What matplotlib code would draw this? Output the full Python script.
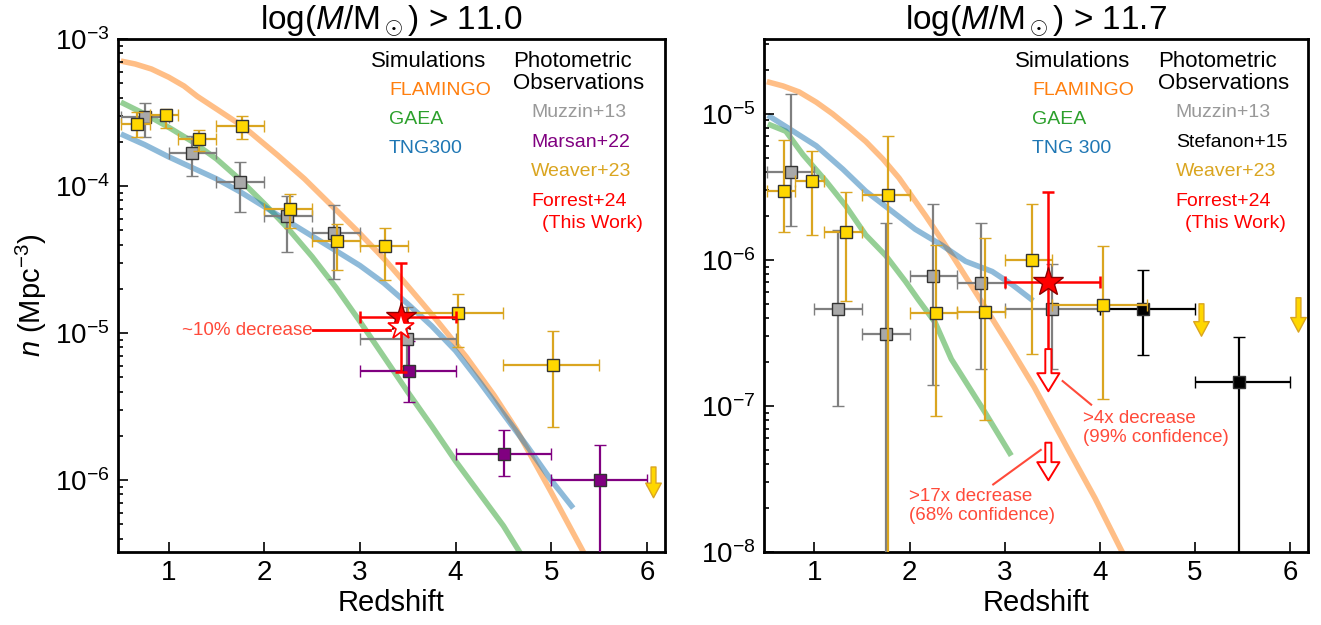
import matplotlib
matplotlib.use('Agg')
import matplotlib.pyplot as plt
import numpy as np
from matplotlib.patches import FancyArrowPatch
from matplotlib.ticker import LogLocator, NullFormatter, FixedLocator

plt.rcParams['font.family'] = ['Liberation Sans', 'DejaVu Sans']
plt.rcParams['mathtext.fontset'] = 'custom'
plt.rcParams['mathtext.rm'] = 'Liberation Sans'
plt.rcParams['mathtext.it'] = 'Liberation Sans:italic'
plt.rcParams['mathtext.bf'] = 'Liberation Sans:bold'
plt.rcParams['mathtext.sf'] = 'Liberation Sans'

# ---------------- Left panel: log(M/Msun) > 11.0 ----------------
flam_L_z = [0.50, 0.65, 0.82, 1.00, 1.16, 1.30, 1.51, 1.79, 2.14, 2.42, 2.70, 2.98, 3.26, 3.50, 3.80,
            4.11, 4.40, 4.64, 4.99, 5.33, 5.40]
flam_L_n = [7.08e-4, 6.76e-4, 6.25e-4, 5.50e-4, 4.79e-4, 4.07e-4, 3.31e-4, 2.51e-4, 1.62e-4, 1.12e-4,
            7.41e-5, 4.90e-5, 3.16e-5, 2.09e-5, 1.23e-5, 6.92e-6, 3.80e-6, 2.19e-6, 8.51e-7, 3.31e-7,
            2.70e-7]
gaea_L_z = [0.50, 0.75, 1.00, 1.25, 1.50, 1.75, 2.00, 2.25, 2.50, 2.75, 3.00, 3.25, 3.50, 3.75, 4.00,
            4.50, 4.70]
gaea_L_n = [3.72e-4, 3.09e-4, 2.51e-4, 2.00e-4, 1.53e-4, 1.10e-4, 7.59e-5, 5.13e-5, 3.31e-5, 2.04e-5,
            1.20e-5, 6.92e-6, 3.98e-6, 2.34e-6, 1.35e-6, 4.90e-7, 3.02e-7]
tng_L_z = [0.50, 0.75, 1.00, 1.25, 1.50, 1.75, 2.00, 2.25, 2.50, 2.75, 3.00, 3.25, 3.50, 3.75, 4.00,
           4.25, 4.50, 4.75, 5.00, 5.23]
tng_L_n = [2.26e-4, 1.91e-4, 1.58e-4, 1.33e-4, 1.12e-4, 9.12e-5, 7.24e-5, 5.75e-5, 4.57e-5, 3.63e-5,
           2.88e-5, 2.19e-5, 1.58e-5, 1.12e-5, 7.59e-6, 4.68e-6, 2.82e-6, 1.70e-6, 1.00e-6, 6.46e-7]

muz_L_z = [0.75, 1.24, 1.745, 2.24, 2.73, 3.49]
muz_L_n = [2.93e-4, 1.67e-4, 1.07e-4, 6.3e-5, 4.8e-5, 9.1e-6]
muz_L_up = [3.7e-4, 2.2e-4, 1.46e-4, 8.6e-5, 7.4e-5, 1.5e-5]
muz_L_lo = [2.15e-4, 1.17e-4, 6.7e-5, 3.55e-5, 2.35e-5, 6.0e-6]
muz_L_zlo = [0.5, 1.0, 1.5, 2.0, 2.5, 3.0]
muz_L_zhi = [1.0, 1.5, 2.0, 2.5, 3.0, 4.0]

mar_L_z = [3.51, 4.51, 5.51]
mar_L_n = [5.5e-6, 1.5e-6, 1.0e-6]
mar_L_up = [8.9e-6, 2.2e-6, 1.73e-6]
mar_L_lo = [3.4e-6, 1.07e-6, 1e-9]
mar_L_zlo = [3.0, 4.0, 5.0]
mar_L_zhi = [4.0, 5.0, 6.0]

wea_L_z = [0.67, 0.97, 1.32, 1.77, 2.27, 2.76, 3.26, 4.03, 5.02]
wea_L_n = [2.63e-4, 3.04e-4, 2.09e-4, 2.57e-4, 7.0e-5, 4.2e-5, 3.9e-5, 1.38e-5, 6.1e-6]
wea_L_up = [3.2e-4, 3.35e-4, 2.42e-4, 2.98e-4, 8.9e-5, 5.5e-5, 5.2e-5, 1.85e-5, 1.03e-5]
wea_L_lo = [2.15e-4, 2.5e-4, 1.74e-4, 2.1e-4, 5.2e-5, 2.7e-5, 2.3e-5, 8.1e-6, 2.3e-6]
wea_L_zlo = [0.5, 0.8, 1.1, 1.5, 2.0, 2.5, 3.0, 3.5, 4.5]
wea_L_zhi = [0.8, 1.1, 1.5, 2.0, 2.5, 3.0, 3.5, 4.5, 5.5]
wea_L_lim_z = [6.07]
wea_L_lim_top = [1.23e-6]
wea_L_lim_tip = [7.6e-7]

for_L_z, for_L_n, for_L_up, for_L_lo, for_L_zlo, for_L_zhi = 3.43, 1.29e-5, 3.0e-5, 5.4e-6, 3.0, 4.0
for_L_dec_n = 1.1e-5          # ~10% decrease (open star)

# ---------------- Right panel: log(M/Msun) > 11.7 ----------------
flam_R_z = [0.50, 0.67, 0.84, 1.02, 1.19, 1.36, 1.54, 1.72, 1.89, 2.17, 2.45, 2.79, 3.05, 3.31, 3.67,
            3.95, 4.22, 4.30]
flam_R_n = [1.66e-5, 1.55e-5, 1.41e-5, 1.20e-5, 1.0e-5, 8.13e-6, 6.46e-6, 4.90e-6, 3.63e-6, 2.0e-6,
            1.07e-6, 4.79e-7, 2.57e-7, 1.35e-7, 5.01e-8, 2.34e-8, 1.05e-8, 8.3e-9]
gaea_R_z = [0.51, 0.70, 0.88, 1.12, 1.33, 1.54, 1.75, 1.96, 2.09, 2.27, 2.44, 2.79, 3.07]
gaea_R_n = [8.51e-6, 7.59e-6, 5.25e-6, 3.47e-6, 2.34e-6, 1.48e-6, 1.07e-6, 7.08e-7, 5.37e-7, 3.72e-7,
            2.09e-7, 9.12e-8, 4.57e-8]
tng_R_z = [0.51, 0.73, 1.02, 1.30, 1.54, 1.82, 2.06, 2.34, 2.59, 2.87, 3.08, 3.30]
tng_R_n = [9.77e-6, 7.94e-6, 6.03e-6, 4.17e-6, 2.95e-6, 2.14e-6, 1.62e-6, 1.26e-6, 9.77e-7, 8.32e-7,
           6.76e-7, 5.25e-7]

muz_R_z = [0.75, 1.25, 1.75, 2.25, 2.75, 3.5]
muz_R_n = [4.0e-6, 4.6e-7, 3.1e-7, 7.7e-7, 6.9e-7, 4.6e-7]
muz_R_up = [1.37e-5, 1.6e-6, 1.8e-6, 2.4e-6, 1.8e-6, 9.3e-7]
muz_R_lo = [1.7e-6, 1.0e-7, 1e-10, 1.38e-7, 1.78e-7, 1.8e-7]
muz_R_zlo = [0.5, 1.0, 1.5, 2.0, 2.5, 3.0]
muz_R_zhi = [1.0, 1.5, 2.0, 2.5, 3.0, 4.0]

ste_R_z = [4.46, 5.46]
ste_R_n = [4.6e-7, 1.45e-7]
ste_R_up = [8.5e-7, 2.95e-7]
ste_R_lo = [2.24e-7, 1e-10]
ste_R_zlo = [4.0, 5.0]
ste_R_zhi = [5.0, 6.0]

wea_R_z = [0.68, 0.97, 1.33, 1.77, 2.28, 2.79, 3.29, 4.03]
wea_R_n = [2.96e-6, 3.46e-6, 1.55e-6, 2.8e-6, 4.3e-7, 4.4e-7, 1.0e-6, 4.9e-7]
wea_R_up = [6.6e-6, 5.6e-6, 2.9e-6, 7.1e-6, 1.26e-6, 1.42e-6, 2.4e-6, 1.24e-6]
wea_R_lo = [1.54e-6, 1.49e-6, 5.2e-7, 1e-10, 8.5e-8, 8.0e-8, 2.25e-7, 1.12e-7]
wea_R_zlo = [0.5, 0.8, 1.1, 1.5, 2.0, 2.5, 3.0, 3.5]
wea_R_zhi = [0.8, 1.1, 1.5, 2.0, 2.5, 3.0, 3.5, 4.5]
wea_R_lim_z = [5.07, 6.09]
wea_R_lim_top = [5.0e-7, 5.5e-7]
wea_R_lim_tip = [3.0e-7, 3.2e-7]

for_R_z, for_R_n, for_R_up, for_R_zlo, for_R_zhi = 3.46, 7.1e-7, 2.9e-6, 3.0, 4.0
for_R_lim_top = [2.45e-7, 5.6e-8]
for_R_lim_tip = [1.26e-7, 3.1e-8]

# ---------------- colours ----------------
C_FLAM, C_GAEA, C_TNG = '#ff7f0e', '#2ca02c', '#1f77b4'
C_MUZ_E, C_MUZ_F, C_MUZ_T = '#7f7f7f', '#a9a9a9', '#999999'
C_WEA_E, C_WEA_F = '#daa520', '#ffd700'
C_MAR = '#800080'
C_ANN = '#ff4a3a'

W, H = 1321, 625
fig = plt.figure(figsize=(W / 100, H / 100), dpi=100)
ax1 = fig.add_axes([118 / W, 1 - 552 / H, 547 / W, 513 / H])
ax2 = fig.add_axes([764 / W, 1 - 552 / H, 544 / W, 513 / H])


def points(ax, z, n, up, lo, zlo, zhi, ecol, face, mec='#333333', zorder=4):
    z = np.asarray(z); n = np.asarray(n)
    yerr = [n - np.asarray(lo), np.asarray(up) - n]
    xerr = [z - np.asarray(zlo), np.asarray(zhi) - z]
    ax.errorbar(z, n, yerr=yerr, xerr=xerr, fmt='s', color=ecol, mfc=face, mec=mec, mew=1.0,
                ms=8, elinewidth=1.6, capsize=4, capthick=1.6, zorder=zorder)


def down_arrow(ax, x, top, tip, fc, ec, scale, hw, hl, tw, lw=1.0, zorder=6):
    style = 'simple,head_length=%g,head_width=%g,tail_width=%g' % (hl, hw, tw)
    ax.add_patch(FancyArrowPatch((x, top), (x, tip), arrowstyle=style, mutation_scale=scale,
                                 fc=fc, ec=ec, lw=lw, zorder=zorder, shrinkA=0, shrinkB=0))


def style_axes(ax, ylim):
    ax.set_yscale('log')
    ax.set_xlim(0.47, 6.19)
    ax.set_ylim(*ylim)
    ax.xaxis.set_major_locator(FixedLocator([1, 2, 3, 4, 5, 6]))
    ax.yaxis.set_major_locator(LogLocator(base=10, numticks=20))
    ax.yaxis.set_minor_locator(LogLocator(base=10, subs=np.arange(2, 10), numticks=20))
    ax.yaxis.set_minor_formatter(NullFormatter())
    ax.tick_params(which='both', direction='in', top=False, right=False, labelsize=20, width=1.2)
    ax.tick_params(which='major', length=7, pad=6)
    ax.tick_params(which='minor', length=3.5)
    for s in ax.spines.values():
        s.set_linewidth(2)
    ax.set_xlabel('Redshift', fontsize=21, labelpad=2)


def curves(ax, fz, fn, gz, gn, tz, tn):
    for z, n, c in ((fz, fn, C_FLAM), (gz, gn, C_GAEA), (tz, tn, C_TNG)):
        ax.plot(z, n, color=c, alpha=0.5, lw=4, zorder=1, solid_capstyle='butt',
                solid_joinstyle='round')


# ---------- left ----------
ax = ax1
curves(ax, flam_L_z, flam_L_n, gaea_L_z, gaea_L_n, tng_L_z, tng_L_n)
points(ax, muz_L_z, muz_L_n, muz_L_up, muz_L_lo, muz_L_zlo, muz_L_zhi, C_MUZ_E, C_MUZ_F, zorder=3)
points(ax, mar_L_z, mar_L_n, mar_L_up, mar_L_lo, mar_L_zlo, mar_L_zhi, C_MAR, C_MAR, zorder=3)
points(ax, wea_L_z, wea_L_n, wea_L_up, wea_L_lo, wea_L_zlo, wea_L_zhi, C_WEA_E, C_WEA_F, zorder=4)
for x, t, b in zip(wea_L_lim_z, wea_L_lim_top, wea_L_lim_tip):
    down_arrow(ax, x, t, b, C_WEA_F, C_WEA_E, 14, 0.8, 0.75, 0.25)
ax.errorbar([for_L_z], [for_L_n], yerr=[[for_L_n - for_L_lo], [for_L_up - for_L_n]],
            xerr=[[for_L_z - for_L_zlo], [for_L_zhi - for_L_z]], fmt='none', ecolor='red',
            elinewidth=1.8, capsize=4, capthick=1.8, zorder=5)
ax.plot([for_L_z], [for_L_n], marker='*', ms=22, mfc='red', mec='#8b0000', mew=1, zorder=7, ls='none')
ax.plot([for_L_z], [for_L_dec_n], marker='*', ms=20, mfc='white', mec='red', mew=1.2, zorder=8, ls='none')
ax.plot([2.51, 3.31], [1.05e-5, 1.05e-5], color='red', lw=2, zorder=6)
ax.text(2.50, 1.05e-5, '~10% decrease', color=C_ANN, fontsize=13.5, ha='right', va='center')
style_axes(ax, (3.25e-7, 1e-3))
ax.set_ylabel(r'$n$ (Mpc$^{-3}$)', fontsize=21, labelpad=4)
ax.set_title(r'log($M$/M$_\odot$) > 11.0', fontsize=24, pad=5)

tr = ax.transAxes
ax.text(0.4625, 0.957, 'Simulations', transform=tr, fontsize=16, va='center')
ax.text(0.4954, 0.899, 'FLAMINGO', transform=tr, fontsize=14, color=C_FLAM, va='center')
ax.text(0.4954, 0.844, 'GAEA', transform=tr, fontsize=14, color=C_GAEA, va='center')
ax.text(0.4954, 0.786, 'TNG300', transform=tr, fontsize=14, color=C_TNG, va='center')
ax.text(0.722, 0.957, 'Photometric', transform=tr, fontsize=16, va='center')
ax.text(0.722, 0.914, 'Observations', transform=tr, fontsize=16, va='center')
ax.text(0.755, 0.856, 'Muzzin+13', transform=tr, fontsize=14, color=C_MUZ_T, va='center')
ax.text(0.755, 0.799, 'Marsan+22', transform=tr, fontsize=14, color=C_MAR, va='center')
ax.text(0.755, 0.741, 'Weaver+23', transform=tr, fontsize=14, color=C_WEA_E, va='center')
ax.text(0.755, 0.684, 'Forrest+24', transform=tr, fontsize=14, color='red', va='center')
ax.text(0.775, 0.641, '(This Work)', transform=tr, fontsize=14, color='red', va='center')

# ---------- right ----------
ax = ax2
curves(ax, flam_R_z, flam_R_n, gaea_R_z, gaea_R_n, tng_R_z, tng_R_n)
points(ax, muz_R_z, muz_R_n, muz_R_up, muz_R_lo, muz_R_zlo, muz_R_zhi, C_MUZ_E, C_MUZ_F, zorder=3)
points(ax, ste_R_z, ste_R_n, ste_R_up, ste_R_lo, ste_R_zlo, ste_R_zhi, 'black', 'black', zorder=3)
points(ax, wea_R_z, wea_R_n, wea_R_up, wea_R_lo, wea_R_zlo, wea_R_zhi, C_WEA_E, C_WEA_F, zorder=4)
for x, t, b in zip(wea_R_lim_z, wea_R_lim_top, wea_R_lim_tip):
    down_arrow(ax, x, t, b, C_WEA_F, C_WEA_E, 14, 0.8, 0.75, 0.25)
ax.errorbar([for_R_z], [for_R_n], yerr=[[0], [for_R_up - for_R_n]],
            xerr=[[for_R_z - for_R_zlo], [for_R_zhi - for_R_z]], fmt='none', ecolor='red',
            elinewidth=1.8, capsize=4, capthick=1.8, zorder=5)
ax.plot([for_R_z, for_R_z], [for_R_n, for_R_lim_top[0]], color='red', lw=1.8, zorder=5)
for t, b in zip(for_R_lim_top, for_R_lim_tip):
    down_arrow(ax, for_R_z, t, b, 'white', 'red', 20, 0.8, 0.65, 0.22, lw=1.4)
ax.plot([for_R_z], [for_R_n], marker='*', ms=22, mfc='red', mec='#8b0000', mew=1, zorder=7, ls='none')
ax.plot([3.61, 3.91], [1.48e-7, 1.02e-7], color=C_ANN, lw=1.5)
ax.text(3.82, 7.03e-8, '>4x decrease\n(99% confidence)', color=C_ANN, fontsize=13.5,
        ha='left', va='center', linespacing=1.15)
ax.plot([2.88, 3.38], [2.9e-8, 5.0e-8], color=C_ANN, lw=1.5)
ax.text(1.99, 2.05e-8, '>17x decrease\n(68% confidence)', color=C_ANN, fontsize=13.5,
        ha='left', va='center', linespacing=1.15)
style_axes(ax, (1e-8, 3.25e-5))
ax.set_title(r'log($M$/M$_\odot$) > 11.7', fontsize=24, pad=5)

tr = ax.transAxes
ax.text(0.4605, 0.957, 'Simulations', transform=tr, fontsize=16, va='center')
ax.text(0.4926, 0.899, 'FLAMINGO', transform=tr, fontsize=14, color=C_FLAM, va='center')
ax.text(0.4926, 0.844, 'GAEA', transform=tr, fontsize=14, color=C_GAEA, va='center')
ax.text(0.4926, 0.786, 'TNG 300', transform=tr, fontsize=14, color=C_TNG, va='center')
ax.text(0.724, 0.957, 'Photometric', transform=tr, fontsize=16, va='center')
ax.text(0.724, 0.914, 'Observations', transform=tr, fontsize=16, va='center')
ax.text(0.757, 0.856, 'Muzzin+13', transform=tr, fontsize=14, color=C_MUZ_T, va='center')
ax.text(0.757, 0.799, 'Stefanon+15', transform=tr, fontsize=14, color='black', va='center')
ax.text(0.757, 0.741, 'Weaver+23', transform=tr, fontsize=14, color=C_WEA_E, va='center')
ax.text(0.757, 0.684, 'Forrest+24', transform=tr, fontsize=14, color='red', va='center')
ax.text(0.774, 0.641, '(This Work)', transform=tr, fontsize=14, color='red', va='center')

fig.savefig('out.png', dpi=100)
